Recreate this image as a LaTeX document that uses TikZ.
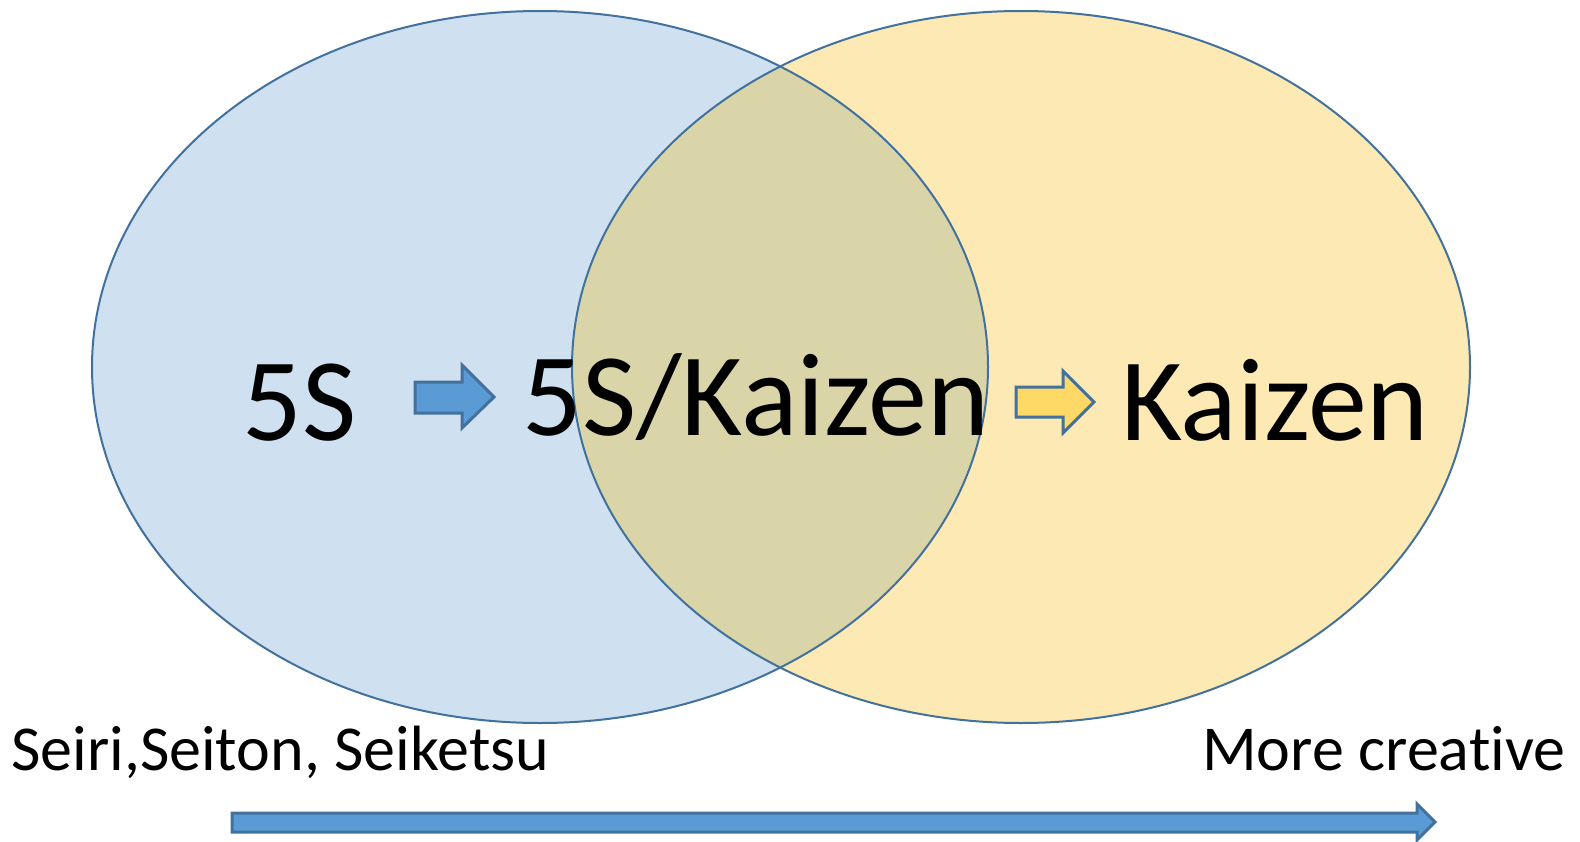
\documentclass[tikz,border=0pt]{standalone}
\usepackage{fontspec}
\setmainfont{Carlito}[Ligatures=NoCommon]
\definecolor{lblue}{HTML}{CFE0F1}
\definecolor{lyel}{HTML}{FDE9B4}
\definecolor{lmix}{HTML}{DAD5A9}
\definecolor{edge}{HTML}{41719C}
\definecolor{ablue}{HTML}{5B9BD5}
\definecolor{ayel}{HTML}{FFD966}
\begin{document}
\begin{tikzpicture}[x=1pt,y=-1pt,
  circ/.style={draw=edge,line width=2pt},
  bigtxt/.style={font=\fontsize{118}{118}\selectfont,inner sep=0pt,anchor=base west},
  smalltxt/.style={font=\fontsize{64}{64}\selectfont,inner sep=0pt,anchor=base west},
  blockarrow/.style={draw=edge,line width=3pt,line join=miter}]
\useasboundingbox (0,0) rectangle (1580,841);
\fill[lblue] (540,367) ellipse [x radius=448,y radius=356];
\fill[lyel] (1021,367) ellipse [x radius=449,y radius=356];
\begin{scope}
  \clip (540,367) ellipse [x radius=448,y radius=356];
  \fill[lmix] (1021,367) ellipse [x radius=449,y radius=356];
\end{scope}
\draw[circ] (540,367) ellipse [x radius=448,y radius=356];
\draw[circ] (1021,367) ellipse [x radius=449,y radius=356];
\node[bigtxt] (fs) at (242,440) {5S};
\node[bigtxt] (mix) at (522,435) {5S/Kaizen};
\node[bigtxt] (kz) at (1121,440) {Kaizen};
\node[smalltxt] (left) at (11,770) {Seiri,Seiton, Seiketsu};
\node[smalltxt] (right) at (1202,770) {More creative};
\draw[blockarrow,fill=ablue] (415,382) -- (462,382) -- (462,365) -- (494,397) -- (462,428) -- (462,413) -- (415,413) -- cycle;
\draw[blockarrow,fill=ayel] (1016,387) -- (1063,387) -- (1063,371) -- (1094,402) -- (1063,433) -- (1063,417) -- (1016,417) -- cycle;
\draw[blockarrow,fill=ablue] (232,813) -- (1417,813) -- (1417,804) -- (1435,822) -- (1417,840) -- (1417,832) -- (232,832) -- cycle;
\end{tikzpicture}
\end{document}
